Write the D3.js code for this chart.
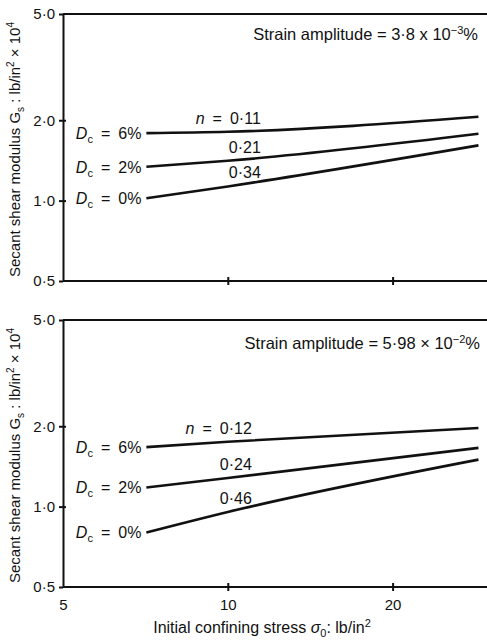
<!DOCTYPE html>
<html>
<head>
<meta charset="utf-8">
<script src="https://cdn.jsdelivr.net/npm/d3@7"></script>
<style>
  body { margin: 0; background: #fff; }
  text { font-family: "Liberation Sans", Arial, Helvetica, sans-serif; fill: #111; }
</style>
</head>
<body>
<div id="chart"></div>
<script>
// data
var xTicks = [5, 10, 20];
var yTicks = [0.5, 1.0, 2.0, 5.0];
var stress = [7.1, 10, 28.7];          // initial confining stress, lb/in2
var dcLabels = ["6", "2", "0"];        // D_c %

// strain amplitude 3.8e-3 %
var topDc6 = [1.79, 1.81, 2.06];
var topDc2 = [1.34, 1.41, 1.78];
var topDc0 = [1.02, 1.13, 1.61];
var topSlopes = ["0\u00b711", "0\u00b721", "0\u00b734"];

// strain amplitude 5.98e-2 %
var botDc6 = [1.67, 1.75, 1.97];
var botDc2 = [1.18, 1.28, 1.66];
var botDc0 = [0.80, 0.955, 1.50];
var botSlopes = ["0\u00b712", "0\u00b724", "0\u00b746"];

var width = 487, height = 643;
var left = 63, right = 489;

var svg = d3.select("#chart").append("svg")
    .attr("width", width)
    .attr("height", height);

var x = d3.scaleLog().domain([5, 30]).range([left, right]);

function fmt(d) { return d.toFixed(1).replace(".", "\u00b7"); }

// write text made of pieces (sub/superscripts, italics)
function rich(sel, parts) {
    var shift = 0;
    parts.forEach(function(p) {
        var s = p.shift || 0;
        var t = sel.append("tspan")
            .attr("dy", (shift - s))
            .text(p.t);
        if (p.size) t.style("font-size", p.size + "px");
        if (p.italic) t.style("font-style", "italic");
        shift = s;
    });
    return sel;
}

var panels = [
    { top: 14, bottom: 281, series: [topDc6, topDc2, topDc0], slopes: topSlopes,
      labelDx: 33, strainDy: 26, strainEnd: 478,
      strain: [{t: "Strain amplitude = 3\u00b78 x 10"}, {t: "\u22123", size: 11, shift: 6}, {t: "%", shift: 0}] },
    { top: 320, bottom: 587, series: [botDc6, botDc2, botDc0], slopes: botSlopes,
      labelDx: 24, strainDy: 29, strainEnd: 480,
      strain: [{t: "Strain amplitude = 5\u00b798 \u00d7 10"}, {t: "\u22122", size: 11, shift: 6}, {t: "%", shift: 0}] }
];

panels.forEach(function(p, pi) {
    var y = d3.scaleLog().domain([0.5, 5]).range([p.bottom, p.top]);
    var g = svg.append("g");

    // frame: top line, left axis, bottom axis (open on the right)
    g.append("line").attr("x1", left).attr("x2", width).attr("y1", p.top).attr("y2", p.top)
        .attr("stroke", "#111").attr("stroke-width", 2);

    g.append("g")
        .attr("transform", "translate(" + left + ",0)")
        .call(d3.axisLeft(y).tickValues(yTicks).tickFormat(fmt).tickSizeInner(4).tickSizeOuter(0).tickPadding(4));
    g.append("g")
        .attr("transform", "translate(" + left + ",0)")
        .call(d3.axisRight(y).tickValues([1.0, 2.0]).tickFormat("").tickSizeInner(3).tickSizeOuter(0))
        .select(".domain").remove();

    var xAxis = g.append("g")
        .attr("transform", "translate(0," + p.bottom + ")")
        .call(d3.axisBottom(x).tickValues(xTicks).tickFormat(d3.format("d"))
              .tickSizeInner(4).tickSizeOuter(0).tickPadding(8));
    if (pi == 0) xAxis.selectAll(".tick text").remove();
    g.append("g")
        .attr("transform", "translate(0," + p.bottom + ")")
        .call(d3.axisTop(x).tickValues([10, 20]).tickFormat("").tickSizeInner(4).tickSizeOuter(0))
        .select(".domain").remove();
    // run the bottom axis line out to the page edge
    xAxis.select(".domain").attr("d", "M" + left + ",0H" + width);

    g.selectAll(".domain, .tick line").attr("stroke", "#111").attr("stroke-width", 2);
    g.selectAll(".tick text").style("font-size", "15px").attr("fill", "#111")
        .style("font-family", '"Liberation Sans", Arial, sans-serif');
    xAxis.selectAll(".tick").filter(function(d) { return d == 5; }).select("line").remove();

    // lines
    var line = d3.line()
        .curve(d3.curveMonotoneX)
        .x(function(d, i) { return x(stress[i]); })
        .y(function(d) { return y(d); });

    p.series.forEach(function(s, i) {
        g.append("path")
            .datum(s)
            .attr("fill", "none")
            .attr("stroke", "#111")
            .attr("stroke-width", 2.6)
            .attr("stroke-linejoin", "round")
            .attr("d", line);

        // D_c label at the start of the line
        var t = g.append("text")
            .attr("x", x(stress[0]) - 5)
            .attr("y", y(s[0]) + 6)
            .attr("text-anchor", "end")
            .style("font-size", "16px");
        rich(t, [{t: "D", italic: true}, {t: "c", size: 11, shift: -4},
                 {t: "\u2002=\u2002" + dcLabels[i] + "%"}]);

        // slope label over the line
        var lt = g.append("text")
            .attr("x", x(stress[1]) + p.labelDx)
            .attr("y", y(s[1]) - 8)
            .attr("text-anchor", "end")
            .style("font-size", "16px");
        if (i == 0) rich(lt, [{t: "n", italic: true}, {t: "\u2002=\u2002" + p.slopes[i]}]);
        else lt.text(p.slopes[i]);
    });

    var st = g.append("text")
        .attr("x", p.strainEnd)
        .attr("y", p.top + p.strainDy)
        .attr("text-anchor", "end")
        .style("font-size", "16.5px");
    rich(st, p.strain);

    // y title
    var yt = g.append("text")
        .attr("transform", "translate(20," + ((p.top + p.bottom) / 2 + 2) + ") rotate(-90)")
        .attr("text-anchor", "middle")
        .style("font-size", "15px");
    rich(yt, [{t: "Secant shear modulus G"}, {t: "s", size: 10, shift: -4},
              {t: " : lb/in"}, {t: "2", size: 10, shift: 6}, {t: " \u00d7 10"}, {t: "4", size: 10, shift: 6}]);
});

// x title
var xt = svg.append("text")
    .attr("x", 262)
    .attr("y", 633)
    .attr("text-anchor", "middle")
    .style("font-size", "16px");
rich(xt, [{t: "Initial confining stress "}, {t: "\u03c3", italic: true}, {t: "0", size: 11, shift: -4},
          {t: ": lb/in"}, {t: "2", size: 11, shift: 6}]);
</script>
</body>
</html>
